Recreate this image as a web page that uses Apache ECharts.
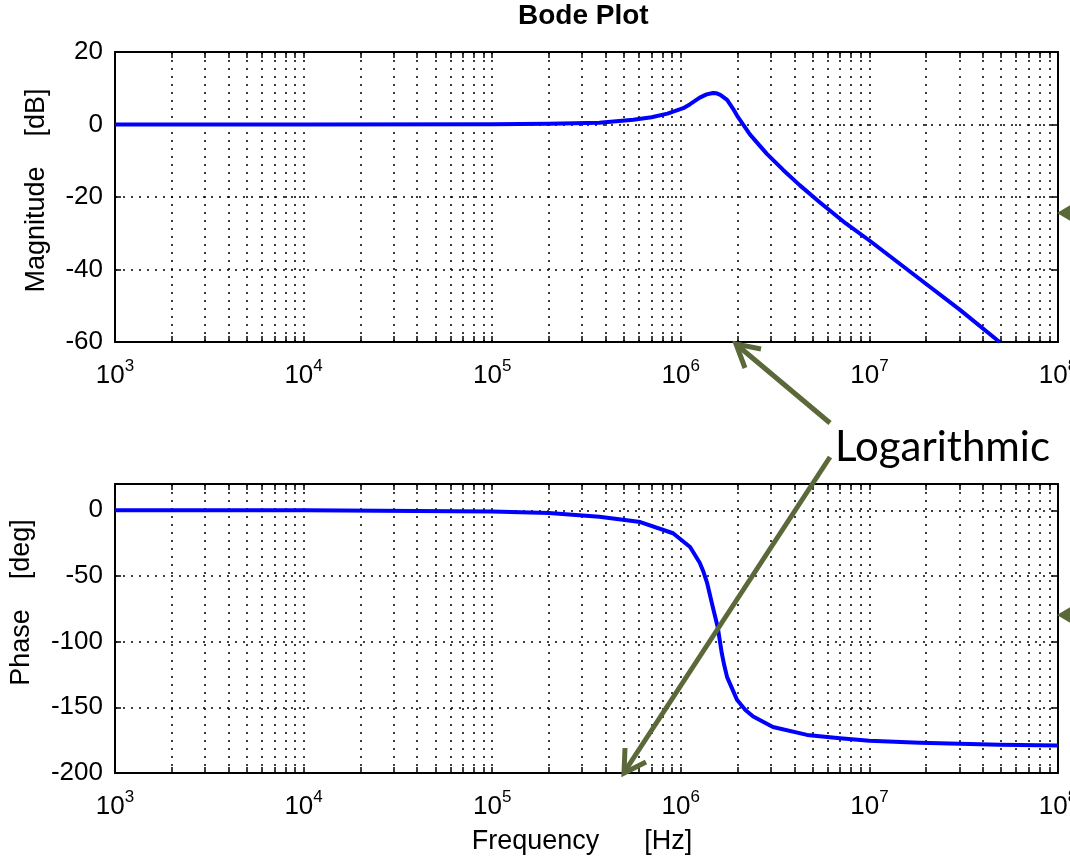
<!DOCTYPE html>
<html>
<head>
<meta charset="utf-8">
<title>Bode Plot</title>
<script src="https://cdn.jsdelivr.net/npm/echarts@6.0.0/dist/echarts.min.js"></script>
<style>
html, body { margin: 0; padding: 0; background: #fff; }
#main { width: 1070px; height: 864px; }
</style>
</head>
<body>
<div id="main"></div>
<script>
// magnitude curve (Hz, dB)
var magFreq = [1e3, 1e4, 1e5, 2e5, 3.7e5, 5.6e5, 7e5, 8.5e5, 1.03e6, 1.12e6, 1.26e6, 1.37e6, 1.48e6, 1.55e6,
	1.62e6, 1.76e6, 1.89e6, 1.99e6, 2.33e6, 2.86e6, 3.5e6, 4.28e6, 5.47e6, 7.5e6, 1e7, 2e7, 3e7, 4.9e7];
var magDb = [0, 0, 0.1, 0.2, 0.5, 1.3, 2.0, 3.0, 4.5, 5.6, 7.4, 8.3, 8.7, 8.6,
	8.2, 6.8, 4.4, 2.4, -2.8, -8.1, -12.6, -16.8, -21.5, -27.3, -32, -44, -51, -60];

// phase curve (Hz, deg)
var phaseFreq = [1e3, 1e4, 1e5, 2e5, 3.7e5, 6.1e5, 9.1e5, 1.12e6, 1.26e6, 1.32e6, 1.38e6, 1.48e6, 1.57e6,
	1.65e6, 1.7e6, 1.76e6, 1.99e6, 2.2e6, 2.42e6, 3.08e6, 4.67e6, 6.98e6, 1e7, 1.85e7, 4.9e7, 1e8];
var phaseDeg = [0, 0, -1, -2, -5, -9, -17.5, -28, -40, -47, -55.5, -74, -89,
	-109, -118, -127, -144.5, -152, -157, -165, -171, -173.5, -175.5, -177, -178.5, -179];

// ticks
var decades = [1e3, 1e4, 1e5, 1e6, 1e7, 1e8];
var gridMult = [1, 2, 3, 4, 5, 6, 7, 8, 9];
var magTicks = [-60, -40, -20, 0, 20];
var phaseTicks = [-200, -150, -100, -50, 0];
var phaseMax = 20;

var freqTicks = [];
decades.forEach(function (d, i) {
	if (i < decades.length - 1) {
		gridMult.forEach(function (m) { freqTicks.push(d * m); });
	}
});
freqTicks.push(decades[decades.length - 1]);

var FONT = 'Liberation Sans';
var black = '#000';
var olive = '#5b693a';
var dotted = { color: black, width: 1.5, type: [2, 6] };
var border = { color: black, width: 2 };

function freqAxis(gridIndex, pos, name) {
	var main = pos === 'bottom';
	return {
		type: 'log', logBase: 10, gridIndex: gridIndex, position: pos,
		min: decades[0], max: decades[decades.length - 1],
		name: name || '', nameLocation: 'middle', nameGap: 55,
		nameTextStyle: { fontFamily: FONT, fontSize: 27, color: black, padding: [0, 9, 0, 0] },
		axisLine: { show: true, onZero: false, lineStyle: border },
		axisTick: { show: true, inside: true, length: 6, lineStyle: { color: black, width: 1.5 }, customValues: freqTicks },
		axisLabel: {
			show: main, customValues: decades, margin: 10, color: black,
			formatter: function (v) {
				var e = Math.round(Math.log(v) / Math.LN10);
				return '{b|10}{s|' + e + '}';
			},
			rich: {
				b: { fontFamily: FONT, fontSize: 26, color: black, verticalAlign: 'bottom' },
				s: { fontFamily: FONT, fontSize: 17, color: black, verticalAlign: 'top', padding: [6, 0, 14, 0] }
			}
		},
		splitLine: { show: main, lineStyle: dotted },
		minorTick: { show: false }
	};
}

function valAxis(gridIndex, pos, ticks, max, name, gap, shift) {
	var main = pos === 'left';
	return {
		type: 'value', gridIndex: gridIndex, position: pos,
		min: ticks[0], max: max, interval: ticks[1] - ticks[0],
		name: main ? name : '', nameLocation: 'middle', nameGap: gap,
		nameTextStyle: { fontFamily: FONT, fontSize: 27, color: black, padding: [0, 0, 0, shift] },
		axisLine: { show: true, onZero: false, lineStyle: border },
		axisTick: { show: true, inside: true, length: 6, lineStyle: { color: black, width: 1.5 } },
		axisLabel: {
			show: main, margin: 12, fontFamily: FONT, fontSize: 26, color: black,
			formatter: function (v) { return v > ticks[ticks.length - 1] ? '' : String(v); }
		},
		splitLine: { show: main, lineStyle: dotted }
	};
}

var chart = echarts.init(document.getElementById('main'));

var option = {
	animation: false,
	backgroundColor: '#fff',
	title: {
		text: 'Bode Plot', left: 518, top: 2, padding: 0,
		textStyle: { fontFamily: FONT, fontSize: 28, fontWeight: 'bold', color: black }
	},
	grid: [
		{ left: 115, right: 12, top: 52, height: 290, outerBoundsMode: 'none' },
		{ left: 115, right: 12, top: 484, height: 289, outerBoundsMode: 'none' }
	],
	xAxis: [
		freqAxis(0, 'bottom'),
		freqAxis(0, 'top'),
		freqAxis(1, 'bottom', 'Frequency      [Hz]'),
		freqAxis(1, 'top')
	],
	yAxis: [
		valAxis(0, 'left', magTicks, magTicks[magTicks.length - 1], 'Magnitude    [dB]', 65, 13),
		valAxis(0, 'right', magTicks, magTicks[magTicks.length - 1]),
		valAxis(1, 'left', phaseTicks, phaseMax, 'Phase    [deg]', 80, 52),
		valAxis(1, 'right', phaseTicks, phaseMax)
	],
	series: [
		{
			name: 'Magnitude', type: 'line', xAxisIndex: 0, yAxisIndex: 0,
			data: magFreq.map(function (f, i) { return [f, magDb[i]]; }),
			showSymbol: false, clip: true, silent: true,
			lineStyle: { color: '#0000ff', width: 4, join: 'round' }, itemStyle: { color: '#0000ff' }
		},
		{
			name: 'Phase', type: 'line', xAxisIndex: 2, yAxisIndex: 2,
			data: phaseFreq.map(function (f, i) { return [f, phaseDeg[i]]; }),
			showSymbol: false, clip: true, silent: true,
			lineStyle: { color: '#0000ff', width: 4, join: 'round' }, itemStyle: { color: '#0000ff' }
		}
	],
	// annotation overlay
	graphic: [
		{ type: 'text', x: 835, y: 447, z: 100,
			style: { text: 'Logarithmic', font: '42px Lato', fill: black, align: 'left', verticalAlign: 'middle' } },
		{ type: 'line', z: 100, shape: { x1: 830, y1: 423, x2: 737, y2: 345 },
			style: { stroke: olive, lineWidth: 5 } },
		{ type: 'polyline', z: 100, shape: { points: [[761, 349], [736, 344], [745, 368]] },
			style: { stroke: olive, lineWidth: 5, fill: null } },
		{ type: 'line', z: 100, shape: { x1: 830, y1: 457, x2: 625, y2: 771 },
			style: { stroke: olive, lineWidth: 5 } },
		{ type: 'polyline', z: 100, shape: { points: [[646, 762], [624, 773], [625, 748]] },
			style: { stroke: olive, lineWidth: 5, fill: null } },
		{ type: 'polygon', z: 100, shape: { points: [[1057, 213], [1072, 204], [1072, 222]] },
			style: { fill: olive } },
		{ type: 'polygon', z: 100, shape: { points: [[1057, 615], [1072, 606], [1072, 624]] },
			style: { fill: olive } }
	]
};

chart.setOption(option);
</script>
</body>
</html>
